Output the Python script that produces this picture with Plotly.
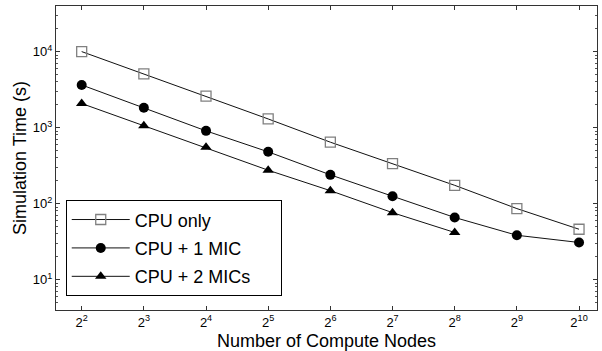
import plotly.graph_objects as go
import math

nodes = [4, 8, 16, 32, 64, 128, 256, 512, 1024]
node_labels = ["2<sup>2</sup>", "2<sup>3</sup>", "2<sup>4</sup>", "2<sup>5</sup>", "2<sup>6</sup>",
               "2<sup>7</sup>", "2<sup>8</sup>", "2<sup>9</sup>", "2<sup>10</sup>"]
cpu_only = [10000, 5100, 2590, 1300, 643, 336, 174, 86, 46]
cpu_1mic = [3640, 1820, 906, 480, 239, 125, 65.7, 38.3, 30.8]
cpu_2mic = [2075, 1060, 550, 275, 148, 76, 41.7]
y_ticks = [10, 100, 1000, 10000]
y_labels = ["10<sup>1</sup>", "10<sup>2</sup>", "10<sup>3</sup>", "10<sup>4</sup>"]

FONT = "Liberation Sans, Arial, sans-serif"

fig = go.Figure()
fig.add_trace(go.Scatter(
    x=nodes, y=cpu_only, name="CPU only", mode="lines+markers",
    line=dict(color="#111111", width=1),
    marker=dict(symbol="square-open", size=10, color="#808080", line=dict(width=1.3, color="#808080")),
    legendgroup="a"))
fig.add_trace(go.Scatter(
    x=nodes, y=cpu_1mic, name="CPU + 1 MIC", mode="lines+markers",
    line=dict(color="#111111", width=1),
    marker=dict(symbol="circle", size=10, color="black"),
    legendgroup="b"))
fig.add_trace(go.Scatter(
    x=nodes[:len(cpu_2mic)], y=cpu_2mic, name="CPU + 2 MICs" + "\u00a0" * 5, mode="lines+markers",
    line=dict(color="#111111", width=1),
    marker=dict(symbol="triangle-up", size=10, color="black"),
    legendgroup="c"))

xr = [1.587 * math.log10(2), 10.289 * math.log10(2)]

fig.update_layout(
    width=602, height=351,
    margin=dict(l=56, r=4, t=6, b=38),
    paper_bgcolor="white", plot_bgcolor="white",
    font=dict(family=FONT, color="black", size=13),
    showlegend=True,
    legend=dict(
        x=0.018, y=0.045, xanchor="left", yanchor="bottom",
        bordercolor="black", borderwidth=1, bgcolor="white",
        font=dict(size=18, family=FONT),
        traceorder="grouped", tracegroupgap=2, itemwidth=58,
    ),
    xaxis=dict(
        type="log", range=xr,
        tickmode="array", tickvals=nodes, ticktext=node_labels,
        ticks="inside", ticklen=4, tickcolor="#333", mirror="allticks",
        showline=True, linecolor="#333", linewidth=1,
        showgrid=False, zeroline=False,
        tickfont=dict(size=13),
        title=dict(text="Number of Compute Nodes", font=dict(size=18), standoff=5),
    ),
    yaxis=dict(
        type="log", range=[0.6, 4.6],
        tickmode="array", tickvals=y_ticks, ticktext=y_labels,
        ticks="inside", ticklen=4, tickcolor="#333", mirror="allticks",
        showline=True, linecolor="#333", linewidth=1,
        showgrid=False, zeroline=False,
        tickfont=dict(size=13),
        minor=dict(ticks="inside", ticklen=2, tickcolor="#555", dtick="D1", showgrid=False),
        title=dict(text="Simulation Time (s)", font=dict(size=18), standoff=1),
    ),
)

fig.write_html("out.html", config={"displayModeBar": False},
               post_script="document.body.style.margin='0';document.body.style.overflow='hidden';")
